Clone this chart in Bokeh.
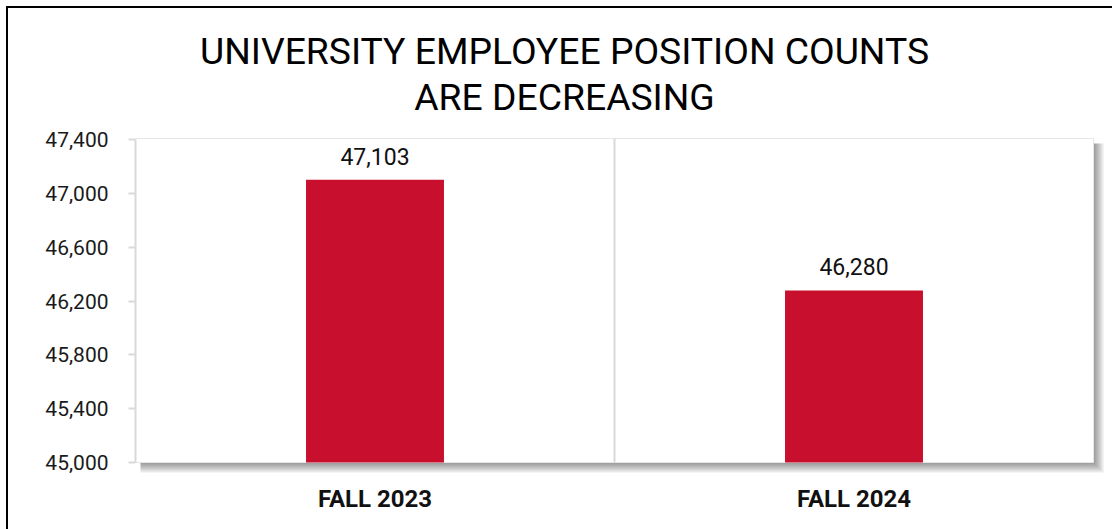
from bokeh.plotting import figure
from bokeh.models import (ColumnDataSource, LabelSet, Label, BoxAnnotation,
                          NumeralTickFormatter, FixedTicker, Range1d, Node)
from bokeh.core.properties import value
from bokeh.embed import file_html
from bokeh.resources import INLINE

# ---- data ----
categories = ["FALL 2023", "FALL 2024"]
counts = [47103, 46280]
count_labels = ["47,103", "46,280"]
y_ticks = [45000, 45400, 45800, 46200, 46600, 47000, 47400]
title_lines = ["UNIVERSITY EMPLOYEE POSITION COUNTS", "ARE DECREASING"]

FONT = "Roboto"
BAR_COLOR = "#C8102E"
Y_MIN, Y_MAX = 45000, 47410
SHADOW = 12          # px of frame kept for the drop shadow (right and bottom)
TOP_SPACE = 130      # px of frame kept above the plot area for the title
PX_PER_CAT = 479     # plot-area width per category
PX_PER_UNIT = 324 / (Y_MAX - Y_MIN)

cat_x = [i + 0.5 for i in range(len(categories))]
src = ColumnDataSource(dict(x=cat_x, val=counts, lab=count_labels))

p = figure(width=1104, height=521,
           x_range=Range1d(0, len(categories) + SHADOW / PX_PER_CAT),
           y_range=Range1d(Y_MIN - SHADOW / PX_PER_UNIT,
                           Y_MAX + TOP_SPACE / PX_PER_UNIT),
           output_backend="svg", toolbar_location=None,
           min_border_left=127, min_border_right=7,
           min_border_top=0, min_border_bottom=55)
p.margin = (8, 0, 0, 8)
p.styles = {"outline": "2px solid black"}
p.background_fill_color = None
p.border_fill_color = "white"
p.outline_line_color = None
p.xgrid.grid_line_color = None
p.ygrid.grid_line_color = None

# drop shadow of the plot area
for k in range(1, 6):
    p.add_layout(BoxAnnotation(
        left=Node(target="frame", symbol="left", offset=5),
        top=Y_MAX - 5 / PX_PER_UNIT,
        right=Node(target="frame", symbol="right", offset=-SHADOW + 2 * k),
        bottom=Node(target="frame", symbol="bottom", offset=-SHADOW + 2 * k),
        fill_color="black", fill_alpha=0.085, line_color=None, level="underlay"))
# plot area
p.add_layout(BoxAnnotation(
    left=Node(target="frame", symbol="left"),
    top=Y_MAX,
    right=Node(target="frame", symbol="right", offset=-SHADOW),
    bottom=Node(target="frame", symbol="bottom", offset=-SHADOW),
    fill_color="white", fill_alpha=1.0, line_color="#E6E6E6", line_alpha=1.0,
    line_width=1, level="underlay"))
# divider between the categories
p.add_layout(BoxAnnotation(
    left=1, right=1, top=Y_MAX,
    bottom=Node(target="frame", symbol="bottom", offset=-SHADOW),
    fill_color=None, line_color="#D9D9D9", line_alpha=1.0, line_width=2,
    level="underlay"))

p.vbar(x="x", top="val", bottom=Y_MIN, width=0.288, source=src,
       fill_color=BAR_COLOR, line_color=None)

p.add_layout(LabelSet(x="x", y="val", text="lab", source=src,
                      text_align="center", text_baseline="alphabetic",
                      y_offset=15, text_font=value(FONT),
                      text_font_size="23px", text_color="#111111"))

# title: two lines centred over the whole chart
title_x = (564 - 135) / PX_PER_CAT
title_rise = [88, 42]   # px of each baseline above the plot area
for t, rise in zip(title_lines, title_rise):
    p.add_layout(Label(x=title_x, y=Y_MAX + rise / PX_PER_UNIT, text=t,
                       text_align="center", text_baseline="alphabetic",
                       text_font=FONT, text_font_size="37.3px",
                       text_color="#000000"))

# axes
p.yaxis.ticker = FixedTicker(ticks=y_ticks)
p.yaxis.formatter = NumeralTickFormatter(format="0,0")
p.yaxis.bounds = (y_ticks[0], y_ticks[-1])
p.yaxis.axis_line_color = "#D9D9D9"
p.yaxis.axis_line_width = 2
p.yaxis.major_tick_line_color = "#D9D9D9"
p.yaxis.major_tick_line_width = 2
p.yaxis.major_tick_out = 7
p.yaxis.major_tick_in = 0
p.yaxis.minor_tick_line_color = None
p.yaxis.major_label_standoff = 20
p.yaxis.major_label_text_font = FONT
p.yaxis.major_label_text_font_size = "21px"
p.yaxis.major_label_text_color = "#1a1a1a"

p.xaxis.ticker = FixedTicker(ticks=cat_x)
p.xaxis.major_label_overrides = {x: c for x, c in zip(cat_x, categories)}
p.xaxis.axis_line_color = None
p.xaxis.major_tick_line_color = None
p.xaxis.minor_tick_line_color = None
p.xaxis.major_label_standoff = 4
p.xaxis.major_label_text_font = FONT
p.xaxis.major_label_text_font_size = "24px"
p.xaxis.major_label_text_font_style = "bold"
p.xaxis.major_label_text_color = "#111111"

open("out.html", "w").write(file_html(p, INLINE))
